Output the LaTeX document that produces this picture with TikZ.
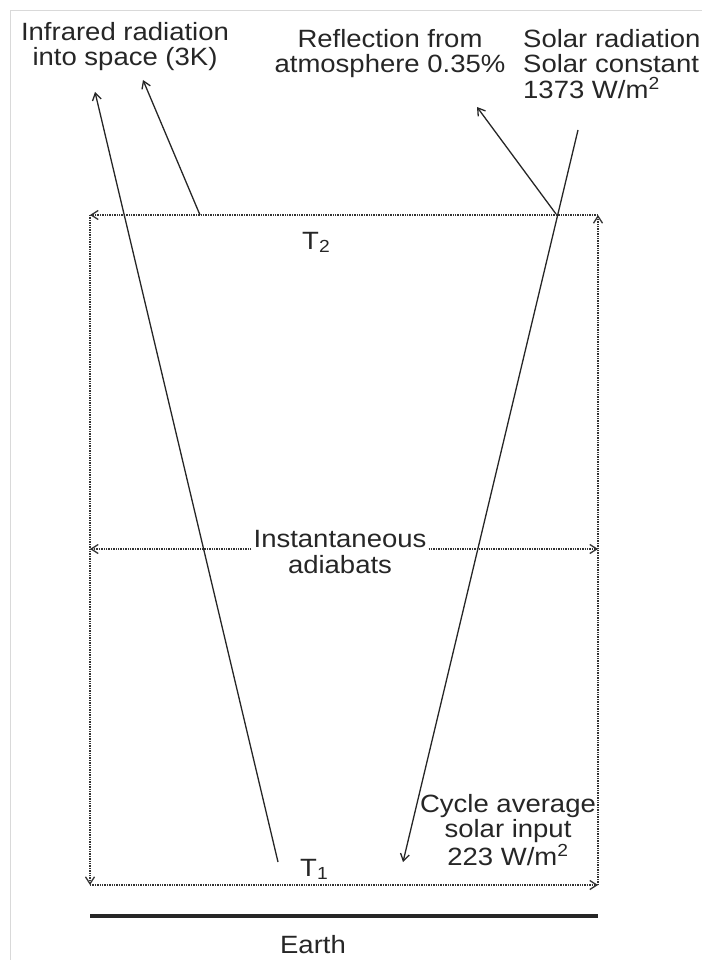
\documentclass[tikz,border=0pt]{standalone}
\usepackage{fontspec}
\setmainfont{Liberation Sans}[FakeStretch=1.1]
\usetikzlibrary{arrows.meta}
\tikzset{
  hegy/.tip={Straight Barb[length=7pt,width=9pt,line width=1.3pt]},
  ciklus/.style={densely dotted,line width=1.4pt,draw=black!80,-hegy},
  sugar/.style={line width=1.3pt,draw=black!85,-hegy},
  felirat/.style={inner sep=0pt,align=center,text=black!85},
  fold/.style={line width=4.5pt,draw=black!85},
  keret/.style={line width=0.8pt,draw=black!15},
}
\begin{document}
\begin{tikzpicture}[x=1pt,y=-1pt,font=\fontsize{25}{25.5}\selectfont]
  \useasboundingbox (0,0) rectangle (702,960);
  \draw[keret] (10,960) |- (702,10);
  % the cycle
  \coordinate (bf) at (90,215); \coordinate (jf) at (598,215);
  \coordinate (ba) at (90,885); \coordinate (ja) at (598,885);
  \draw[ciklus] (bf) -- (ba); \draw[ciklus] (ba) -- (ja);
  \draw[ciklus] (ja) -- (jf); \draw[ciklus] (jf) -- (bf);
  \node[felirat,anchor=base west] (t2) at (302,249) {T\textsubscript{2}};
  \node[felirat,anchor=base west] (t1) at (300,876) {T\textsubscript{1}};
  % adiabats
  \coordinate (ab) at (90,549); \coordinate (aj) at (598,549);
  \node[felirat,inner xsep=2pt] (adi) at (340,552) {Instantaneous\\adiabats};
  \draw[ciklus] (ab -| adi.west) -- (ab); \draw[ciklus] (aj -| adi.east) -- (aj);
  % labels
  \node[felirat,anchor=north] (ir) at (125,22) {Infrared radiation\\into space (3K)};
  \node[felirat,anchor=north] (refl) at (390,29) {Reflection from\\atmosphere 0.35\%};
  \node[felirat,anchor=north west,align=left] (nap) at (523,29)
    {Solar radiation\\Solar constant\\1373 W/m\textsuperscript{2}};
  \node[felirat,anchor=north] (atl) at (508,794)
    {Cycle average\\solar input\\223 W/m\textsuperscript{2}};
  % radiation
  \coordinate (ir0) at (278,862); \coordinate (ir1) at (95,92);
  \coordinate (ir2) at (200,215); \coordinate (ir3) at (143,80);
  \draw[sugar] (ir0) -- (ir1); \draw[sugar] (ir2) -- (ir3);
  \coordinate (n0) at (578,130); \coordinate (n1) at (403,862);
  \coordinate (rf0) at (556,214); \coordinate (rf1) at (477,107);
  \draw[sugar] (n0) -- (n1); \draw[sugar] (rf0) -- (rf1);
  % earth
  \coordinate (f0) at (90,916); \coordinate (f1) at (598,916);
  \draw[fold] (f0) -- (f1);
  \node[felirat] (fold) at (313,945) {Earth};
\end{tikzpicture}
\end{document}
